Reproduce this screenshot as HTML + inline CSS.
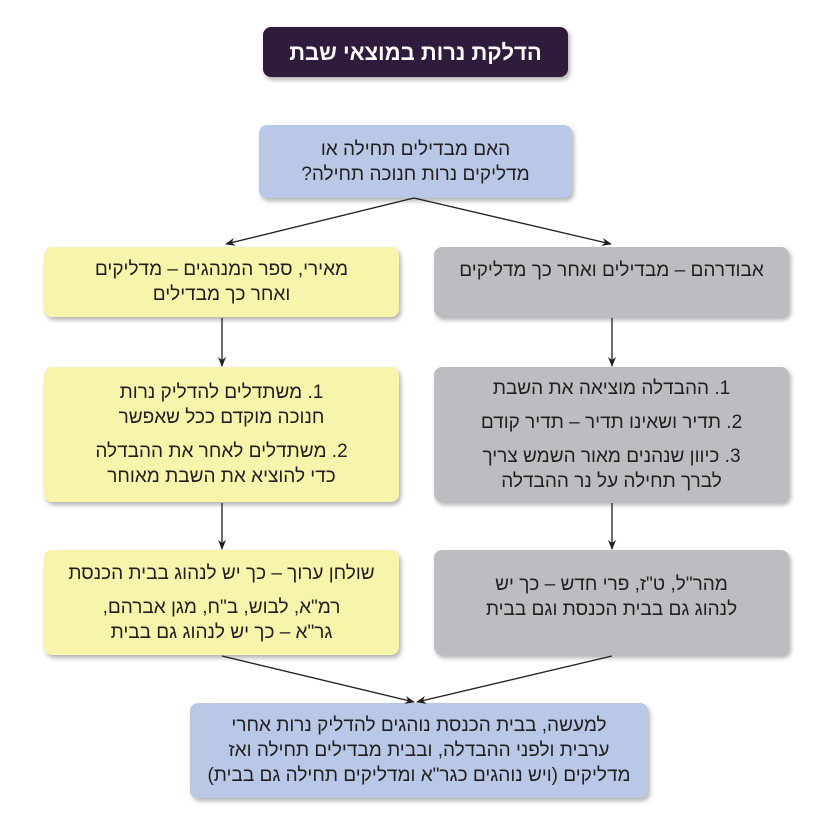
<!DOCTYPE html>
<html><head><meta charset="utf-8"><style>
body{margin:0;width:831px;height:832px;background:#fff;position:relative;overflow:hidden;font-family:"Liberation Sans","Noto Sans CJK SC",sans-serif;}
.b{position:absolute;box-sizing:border-box;border-radius:8px;direction:rtl;text-align:center;color:#231f20;font-size:19px;line-height:25px;box-shadow:2px 3px 5px rgba(0,0,0,0.3);display:flex;flex-direction:column;justify-content:center;align-items:center;}
.bl{background:#b9c8e6}.y{background:#f8f4ab}.g{background:#bcbdc0}
p{margin:0}
.sp{height:9px}
svg{position:absolute;left:0;top:0}
</style></head><body>
<div class="b" style="left:263px;top:27px;width:305px;height:50px;background:#2f1b3b;color:#fff;font-weight:bold;font-size:22px;">הדלקת נרות במוצאי שבת</div>
<div class="b bl" style="left:259px;top:125px;width:313px;height:73px;">האם מבדילים תחילה או<br>מדליקים נרות חנוכה תחילה?</div>

<div class="b y" style="left:44px;top:247px;width:355px;height:70px;">מאירי, ספר המנהגים – מדליקים<br>ואחר כך מבדילים</div>
<div class="b g" style="left:434px;top:247px;width:355px;height:70px;justify-content:flex-start;padding-top:11px;">אבודרהם – מבדילים ואחר כך מדליקים</div>

<div class="b y" style="left:44px;top:367px;width:355px;height:135px;"><p>1. משתדלים להדליק נרות<br>חנוכה מוקדם ככל שאפשר</p><div class="sp"></div><p>2. משתדלים לאחר את ההבדלה<br>כדי להוציא את השבת מאוחר</p></div>
<div class="b g" style="left:434px;top:367px;width:355px;height:135px;"><p>1. ההבדלה מוציאה את השבת</p><div class="sp"></div><p>2. תדיר ושאינו תדיר – תדיר קודם</p><div class="sp"></div><p>3. כיוון שנהנים מאור השמש צריך<br>לברך תחילה על נר ההבדלה</p></div>

<div class="b y" style="left:44px;top:550px;width:355px;height:105px;"><p>שולחן ערוך – כך יש לנהוג בבית הכנסת</p><div class="sp"></div><p>רמ"א, לבוש, ב"ח, מגן אברהם,<br>גר"א – כך יש לנהוג גם בבית</p></div>
<div class="b g" style="left:434px;top:550px;width:355px;height:105px;justify-content:flex-start;padding-top:22px;">מהר"ל, ט"ז, פרי חדש – כך יש<br>לנהוג גם בבית הכנסת וגם בבית</div>

<div class="b bl" style="left:190px;top:703px;width:458px;height:95px;">למעשה, בבית הכנסת נוהגים להדליק נרות אחרי<br>ערבית ולפני ההבדלה, ובבית מבדילים תחילה ואז<br>מדליקים (ויש נוהגים כגר"א ומדליקים תחילה גם בבית)</div>

<svg width="831" height="832">
<defs><marker id="a" markerWidth="10" markerHeight="8" refX="9" refY="4" orient="auto" markerUnits="userSpaceOnUse"><path d="M0,0 L10,4 L0,8 L3,4z" fill="#231f20"/></marker></defs>
<g stroke="#231f20" stroke-width="1.3" fill="none" marker-end="url(#a)">
<line x1="414" y1="198" x2="226" y2="244"/>
<line x1="414" y1="198" x2="611" y2="244"/>
<line x1="222" y1="318" x2="222" y2="366"/>
<line x1="612" y1="318" x2="612" y2="366"/>
<line x1="222" y1="503" x2="222" y2="549"/>
<line x1="612" y1="503" x2="612" y2="549"/>
<line x1="222" y1="656" x2="414" y2="702"/>
<line x1="612" y1="656" x2="417" y2="702"/>
</g></svg>
</body></html>
